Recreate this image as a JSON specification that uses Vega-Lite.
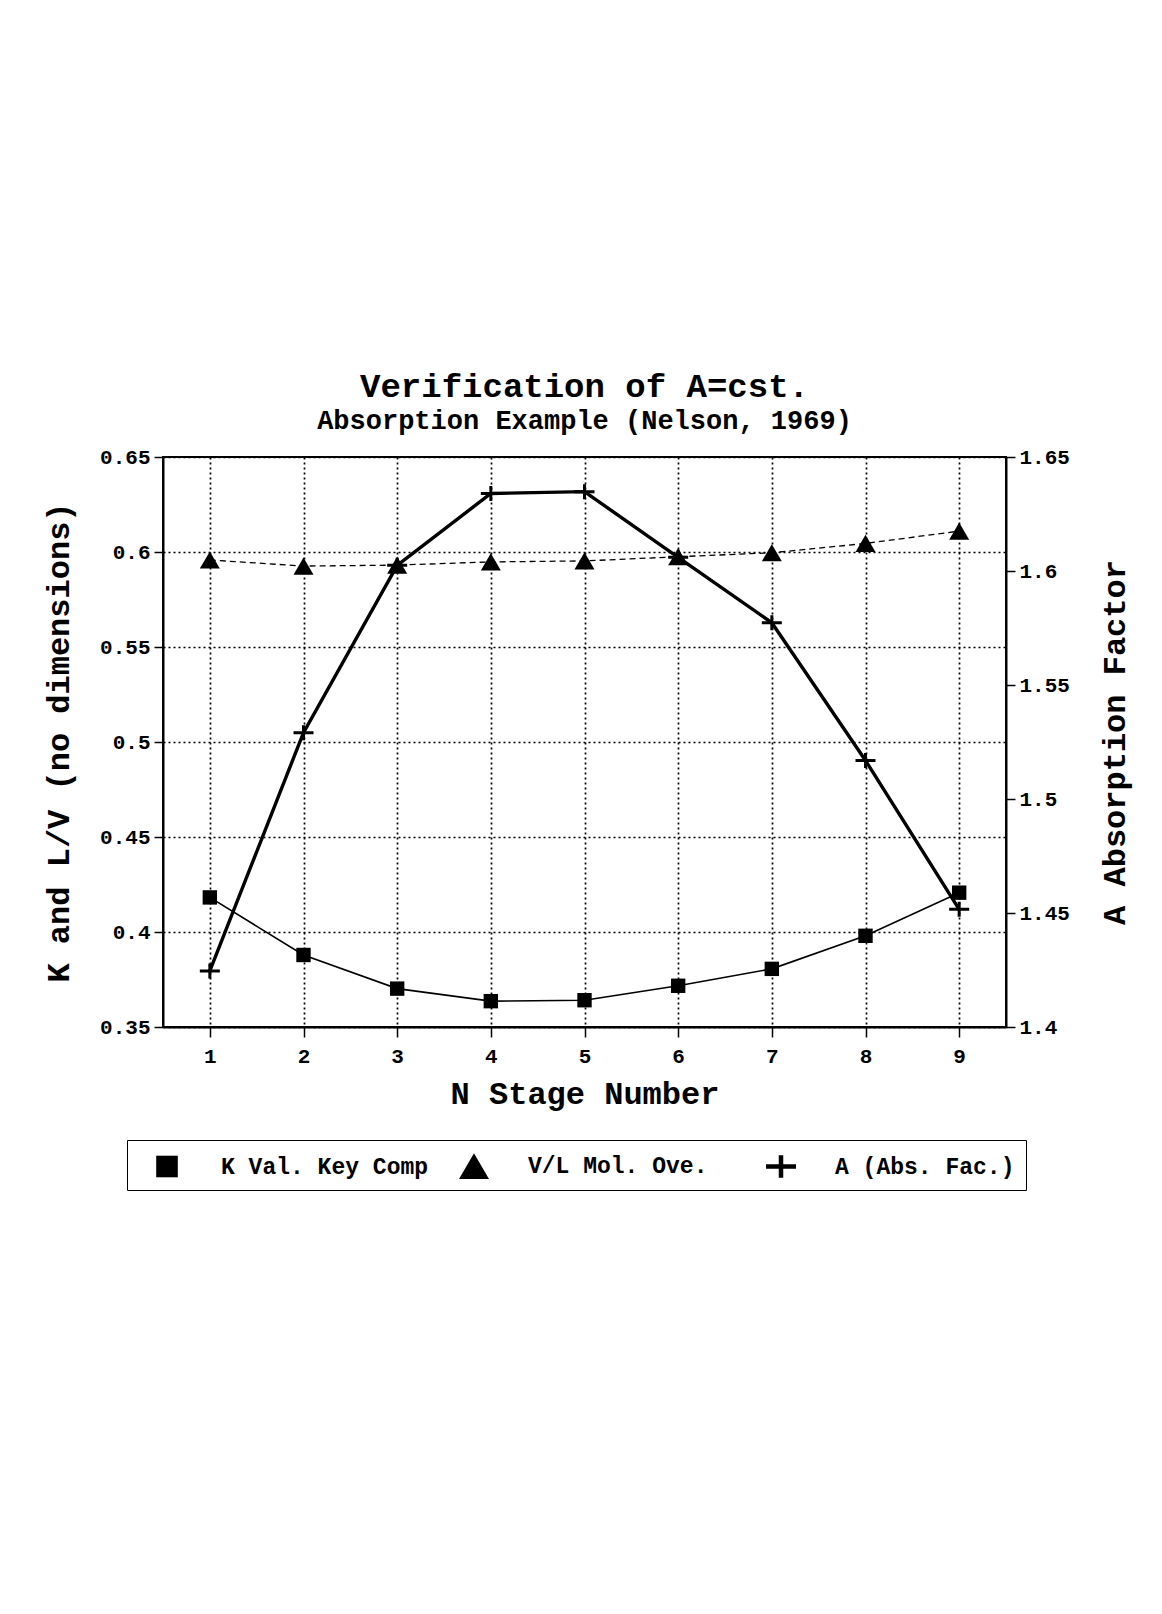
{
  "$schema": "https://vega.github.io/schema/vega-lite/v6.json",
  "autosize": {"type": "none"},
  "padding": {"left": 163, "top": 457, "right": 156, "bottom": 587},
  "width": 843,
  "height": 570,
  "background": "white",
  "title": {
    "text": "Verification of A=cst.",
    "subtitle": "Absorption Example (Nelson, 1969)",
    "anchor": "middle",
    "frame": "group",
    "offset": 12,
    "subtitlePadding": 4
  },
  "data": {
    "values": [
      {"stage": 1, "series": "K Val. Key Comp", "value": 0.4182},
      {"stage": 2, "series": "K Val. Key Comp", "value": 0.3879},
      {"stage": 3, "series": "K Val. Key Comp", "value": 0.3702},
      {"stage": 4, "series": "K Val. Key Comp", "value": 0.3636},
      {"stage": 5, "series": "K Val. Key Comp", "value": 0.3641},
      {"stage": 6, "series": "K Val. Key Comp", "value": 0.3717},
      {"stage": 7, "series": "K Val. Key Comp", "value": 0.3806},
      {"stage": 8, "series": "K Val. Key Comp", "value": 0.3980},
      {"stage": 9, "series": "K Val. Key Comp", "value": 0.4207},
      {"stage": 1, "series": "V/L Mol. Ove.", "value": 0.5958},
      {"stage": 2, "series": "V/L Mol. Ove.", "value": 0.5926},
      {"stage": 3, "series": "V/L Mol. Ove.", "value": 0.5931},
      {"stage": 4, "series": "V/L Mol. Ove.", "value": 0.5948},
      {"stage": 5, "series": "V/L Mol. Ove.", "value": 0.5953},
      {"stage": 6, "series": "V/L Mol. Ove.", "value": 0.5975},
      {"stage": 7, "series": "V/L Mol. Ove.", "value": 0.5996},
      {"stage": 8, "series": "V/L Mol. Ove.", "value": 0.6045},
      {"stage": 9, "series": "V/L Mol. Ove.", "value": 0.6110},
      {"stage": 1, "series": "A (Abs. Fac.)", "value": 1.4246},
      {"stage": 2, "series": "A (Abs. Fac.)", "value": 1.5291},
      {"stage": 3, "series": "A (Abs. Fac.)", "value": 1.6025},
      {"stage": 4, "series": "A (Abs. Fac.)", "value": 1.6340},
      {"stage": 5, "series": "A (Abs. Fac.)", "value": 1.6348},
      {"stage": 6, "series": "A (Abs. Fac.)", "value": 1.6060},
      {"stage": 7, "series": "A (Abs. Fac.)", "value": 1.5773},
      {"stage": 8, "series": "A (Abs. Fac.)", "value": 1.5169},
      {"stage": 9, "series": "A (Abs. Fac.)", "value": 1.4516}
    ]
  },
  "encoding": {
    "x": {
      "field": "stage",
      "type": "quantitative",
      "scale": {"domain": [0.5, 9.5], "nice": false, "zero": false},
      "axis": {
        "title": "N Stage Number",
        "values": [1, 2, 3, 4, 5, 6, 7, 8, 9],
        "format": "d",
        "grid": true,
        "tickSize": 10,
        "labelPadding": 8,
        "titlePadding": 12
      }
    }
  },
  "layer": [
    {
      "transform": [{"filter": "datum.series !== 'A (Abs. Fac.)'"}],
      "encoding": {
        "y": {
          "field": "value",
          "type": "quantitative",
          "scale": {"domain": [0.35, 0.65], "nice": false, "zero": false},
          "axis": {
            "orient": "left",
            "title": "K and L/V (no dimensions)",
            "values": [0.35, 0.4, 0.45, 0.5, 0.55, 0.6, 0.65],
            "format": "~g",
            "grid": true,
            "titlePadding": 24
          }
        }
      },
      "layer": [
        {
          "transform": [{"filter": "datum.series === 'K Val. Key Comp'"}],
          "mark": {"type": "line", "color": "black", "strokeWidth": 1.6},
          "encoding": {}
        },
        {
          "transform": [{"filter": "datum.series === 'V/L Mol. Ove.'"}],
          "mark": {"type": "line", "color": "black", "strokeWidth": 1.3, "strokeDash": [6, 4]},
          "encoding": {}
        },
        {
          "mark": {"type": "point", "filled": true, "color": "black", "opacity": 1, "size": 400, "strokeWidth": 0},
          "encoding": {
            "shape": {
              "field": "series",
              "type": "nominal",
              "scale": {
                "domain": ["K Val. Key Comp", "V/L Mol. Ove.", "A (Abs. Fac.)"],
                "range": [
                  "M-0.72,-0.72H0.72V0.72H-0.72Z",
                  "M0,-0.86L1,0.86H-1Z",
                  "M-1,-0.15H-0.15V-0.75H0.15V-0.15H1V0.15H0.15V0.75H-0.15V0.15H-1Z"
                ]
              },
              "legend": {
                "title": null,
                "orient": "none",
                "legendX": -36,
                "legendY": 683,
                "direction": "horizontal",
                "columns": 3,
                "gridAlign": "all",
                "columnPadding": 16,
                "padding": 11,
                "symbolSize": 900,
                "symbolOffset": 14,
                "symbolStrokeWidth": 0,
                "symbolOpacity": 1,
                "symbolFillColor": "black",
                "labelOffset": 39,
                "labelFont": "Liberation Mono",
                "labelFontSize": 23,
                "labelFontWeight": "bold",
                "labelColor": "black",
                "labelLimit": 400,
                "strokeColor": "black",
                "fillColor": "white",
                "encode": {
                  "legend": {
                    "strokeWidth": {"value": 1.5}
                  },
                  "symbols": {
                    "fill": {"value": "black"},
                    "size": {"value": 420},
                    "opacity": {"value": 1}
                  }
                }
              }
            }
          }
        }
      ]
    },
    {
      "transform": [{"filter": "datum.series === 'A (Abs. Fac.)'"}],
      "encoding": {
        "y": {
          "field": "value",
          "type": "quantitative",
          "scale": {"domain": [1.4, 1.65], "nice": false, "zero": false},
          "axis": {
            "orient": "right",
            "title": "A Absorption Factor",
            "values": [1.4, 1.45, 1.5, 1.55, 1.6, 1.65],
            "format": "~g",
            "grid": false,
            "titleAngle": 270,
            "titleBaseline": "top",
            "titlePadding": 30
          }
        }
      },
      "layer": [
        {
          "mark": {"type": "line", "color": "black", "strokeWidth": 3.4},
          "encoding": {}
        },
        {
          "mark": {
            "type": "point",
            "filled": true,
            "color": "black",
            "opacity": 1,
            "size": 400,
            "strokeWidth": 0,
            "shape": "M-1,-0.15H-0.15V-0.75H0.15V-0.15H1V0.15H0.15V0.75H-0.15V0.15H-1Z"
          },
          "encoding": {}
        }
      ]
    }
  ],
  "resolve": {"scale": {"y": "independent"}},
  "config": {
    "view": {"stroke": "black", "strokeWidth": 2},
    "font": "Liberation Mono",
    "title": {
      "font": "Liberation Mono",
      "fontSize": 34,
      "fontWeight": "bold",
      "color": "black",
      "subtitleFont": "Liberation Mono",
      "subtitleFontSize": 27,
      "subtitleFontWeight": "bold",
      "subtitleColor": "black"
    },
    "axis": {
      "labelFont": "Liberation Mono",
      "labelFontSize": 21,
      "labelFontWeight": "bold",
      "labelColor": "black",
      "titleFont": "Liberation Mono",
      "titleFontSize": 32,
      "titleFontWeight": "bold",
      "titleColor": "black",
      "tickColor": "black",
      "tickSize": 9,
      "tickWidth": 1.5,
      "labelPadding": 4,
      "domainColor": "black",
      "domainWidth": 2,
      "gridColor": "black",
      "gridDash": [2, 3],
      "gridWidth": 1.7,
      "gridOpacity": 1
    }
  }
}
